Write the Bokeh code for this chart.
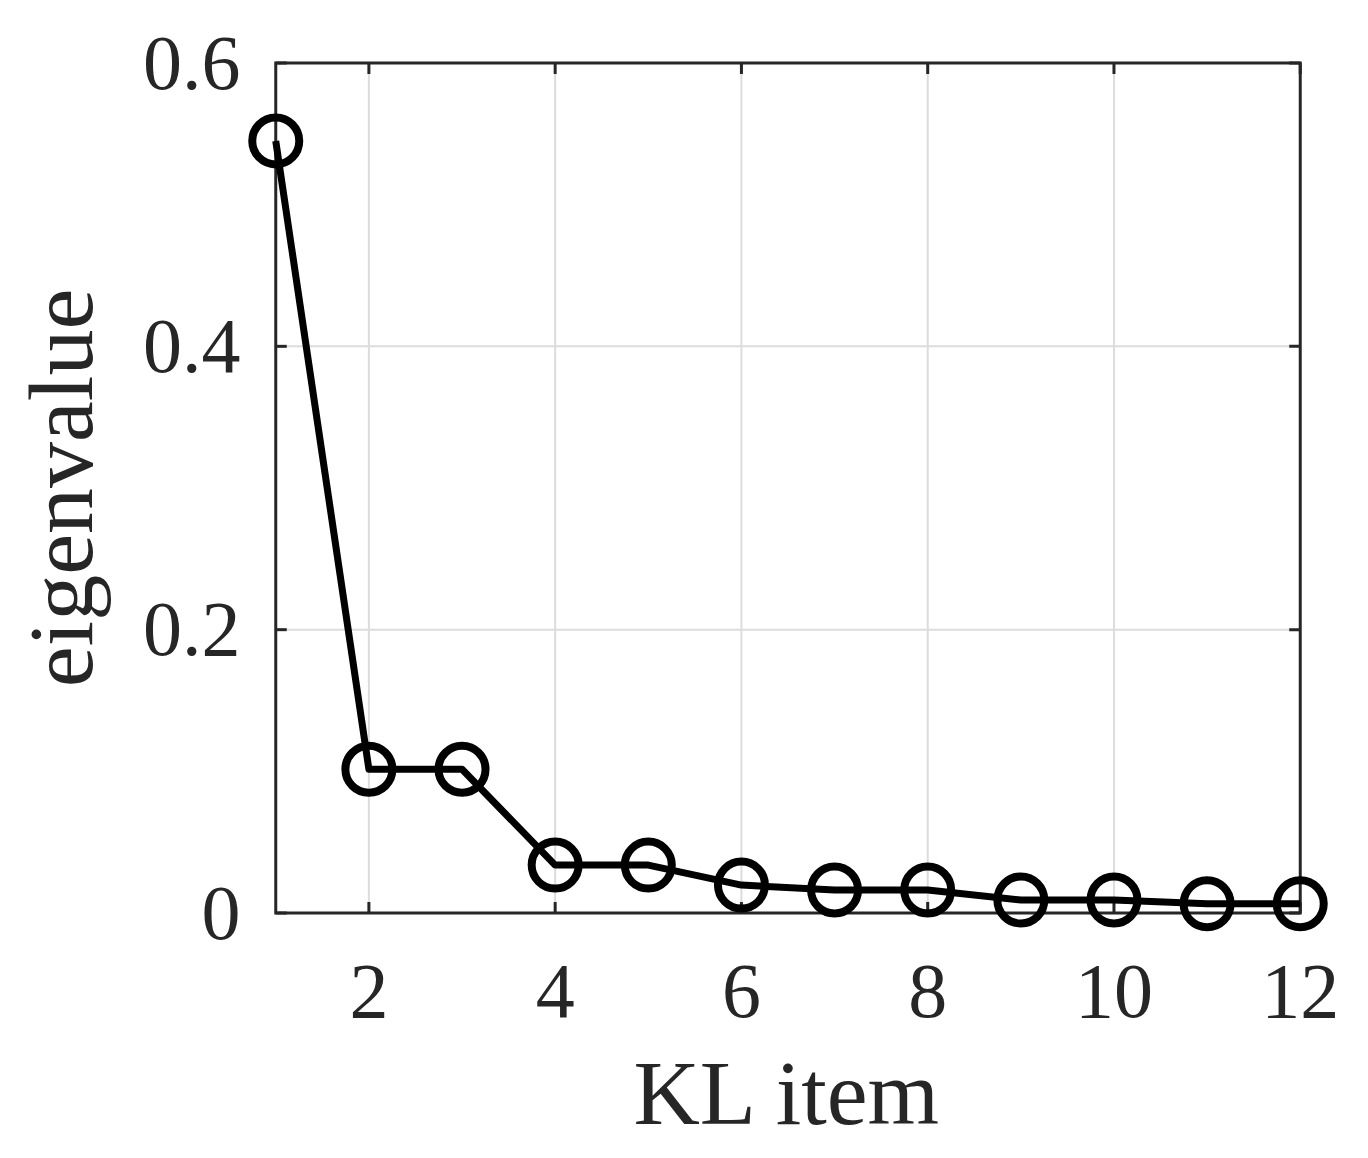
import math
from bokeh.plotting import figure
from bokeh.models import Range1d, FixedTicker
from bokeh.embed import file_html
from bokeh.resources import INLINE

# data
kl_item = [1, 2, 3, 4, 5, 6, 7, 8, 9, 10, 11, 12]
eigenvalue = [0.545, 0.1015, 0.1015, 0.0338, 0.0338, 0.0197, 0.0162, 0.0162, 0.0092, 0.0092, 0.0065, 0.0065]
x_ticks = [2, 4, 6, 8, 10, 12]
y_ticks = [0, 0.2, 0.4, 0.6]
y_tick_labels = ["0", "0.2", "0.4", "0.6"]
x_lim = (1, 12)
y_lim = (0, 0.6)

FONT = "Liberation Serif"
AX = "#262626"

p = figure(frame_width=1099, frame_height=935,
           x_range=Range1d(0.6, 12.4), y_range=Range1d(-0.03, 0.63),
           output_backend="svg", toolbar_location=None,
           min_border_left=238, min_border_top=20, min_border_right=14, min_border_bottom=185)
p.outline_line_color = None
p.xgrid.visible = False
p.ygrid.visible = False
p.background_fill_color = "white"
p.border_fill_color = "white"

# grid lines inside the box
gx = [t for t in x_ticks if x_lim[0] < t < x_lim[1]]
gy = [t for t in y_ticks if y_lim[0] < t < y_lim[1]]
p.segment(x0=gx, y0=[y_lim[0]] * len(gx), x1=gx, y1=[y_lim[1]] * len(gx),
          line_color="#dcdcdc", line_width=2, level="underlay")
p.segment(x0=[x_lim[0]] * len(gy), y0=gy, x1=[x_lim[1]] * len(gy), y1=gy,
          line_color="#dcdcdc", line_width=2, level="underlay")

# box
p.quad(left=[x_lim[0]], right=[x_lim[1]], bottom=[y_lim[0]], top=[y_lim[1]],
       fill_color=None, line_color=AX, line_width=3, line_join="miter")

# inward ticks on all four sides
TL = 11
n = len(x_ticks)
p.ray(x=x_ticks, y=[y_lim[0]] * n, length=TL, length_units="screen", angle=math.pi / 2,
      line_color=AX, line_width=3)
p.ray(x=x_ticks, y=[y_lim[1]] * n, length=TL, length_units="screen", angle=-math.pi / 2,
      line_color=AX, line_width=3)
m = len(y_ticks)
p.ray(x=[x_lim[0]] * m, y=y_ticks, length=TL, length_units="screen", angle=0,
      line_color=AX, line_width=3)
p.ray(x=[x_lim[1]] * m, y=y_ticks, length=TL, length_units="screen", angle=math.pi,
      line_color=AX, line_width=3)

# axes: labels only
for ax in (p.xaxis[0], p.yaxis[0]):
    ax.axis_line_color = None
    ax.major_tick_line_color = None
    ax.minor_tick_line_color = None
    ax.major_tick_in = 0
    ax.major_tick_out = 0
    ax.major_label_text_font = FONT
    ax.major_label_text_font_size = "78px"
    ax.major_label_text_color = AX
    ax.axis_label_text_font = FONT
    ax.axis_label_text_font_size = "92px"
    ax.axis_label_text_font_style = "normal"
    ax.axis_label_text_color = AX

p.xaxis[0].ticker = FixedTicker(ticks=x_ticks)
p.xaxis[0].axis_label = "KL item"
p.xaxis[0].major_label_standoff = 10
p.xaxis[0].axis_label_standoff = 22

p.yaxis[0].ticker = FixedTicker(ticks=y_ticks)
p.yaxis[0].major_label_overrides = {t: s for t, s in zip(y_ticks, y_tick_labels)}
p.yaxis[0].axis_label = "eigenvalue"
p.yaxis[0].major_label_standoff = -2
p.yaxis[0].axis_label_standoff = 28

p.line(kl_item, eigenvalue, line_color="black", line_width=7, line_join="round")
p.scatter(kl_item, eigenvalue, marker="circle", size=47, fill_color=None,
          line_color="black", line_width=8)

open("out.html", "w").write(file_html(p, INLINE))
